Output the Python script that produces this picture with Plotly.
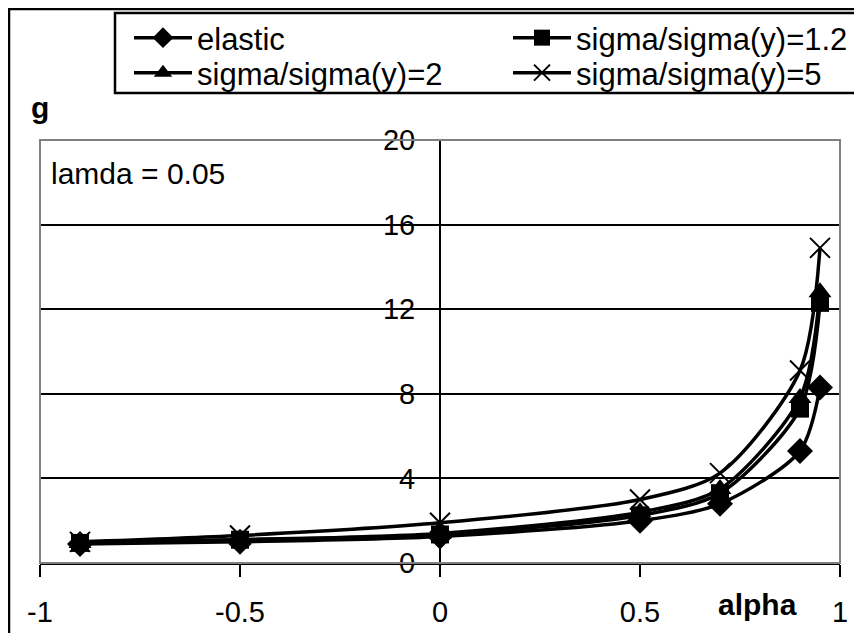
import plotly.graph_objects as go

alpha = [-0.9, -0.5, 0, 0.5, 0.7, 0.9, 0.95]
series_names = ["elastic", "sigma/sigma(y)=1.2", "sigma/sigma(y)=2", "sigma/sigma(y)=5"]
g_elastic = [0.9, 1.0, 1.25, 2.0, 2.8, 5.3, 8.3]
g_s12 = [0.95, 1.1, 1.35, 2.25, 3.3, 7.3, 12.3]
g_s2 = [0.95, 1.1, 1.4, 2.4, 3.5, 7.8, 12.8]
g_s5 = [1.0, 1.3, 1.9, 3.0, 4.25, 9.1, 14.9]
y_ticks = [0, 4, 8, 12, 16, 20]
x_ticks = [-1, -0.5, 0, 0.5, 1]
x_ticktext = ["-1", "-0.5", "0", "0.5", "1"]

series_values = [g_elastic, g_s12, g_s2, g_s5]
symbols = ["diamond", "square", "triangle-up", "x-thin"]
sizes = [20, 18, 20, 20]
legend_ids = ["legend", "legend", "legend2", "legend2"]

# page offset of the figure (body margin)
OFF = 8
W, H = 862, 633
# plot area in page pixels: x 40..840, y 140..563
PX0, PX1, PY0, PY1 = 40, 840, 140, 563
L = PX0 - OFF
R = W - (PX1 - OFF)
T = PY0 - OFF
B = H - (PY1 - OFF)
pw, ph = W - L - R, H - T - B


def px_x(page_x):
    return (page_x - OFF - L) / pw


def px_y(page_y):
    return (H - B - (page_y - OFF)) / ph


fig = go.Figure()
for name, vals, sym, sz, lg in zip(series_names, series_values, symbols, sizes, legend_ids):
    fig.add_trace(go.Scatter(
        x=alpha, y=vals, name=name, mode="lines+markers", legend=lg,
        line=dict(color="black", width=3.5, shape="spline", smoothing=0.8),
        marker=dict(symbol=sym, size=sz, color="black",
                    line=dict(color="black", width=2 if sym == "x-thin" else 0)),
    ))

FONT = "Liberation Sans, Arial, sans-serif"
LEG_FONT = dict(family=FONT, size=31, color="black")

leg_common = dict(
    orientation="h", xanchor="left", yanchor="top",
    bgcolor="rgba(0,0,0,0)", borderwidth=0, font=LEG_FONT,
    itemwidth=58, entrywidth=306, entrywidthmode="pixels",
)

fig.update_layout(
    width=W, height=H,
    margin=dict(l=L, r=R, t=T, b=B, autoexpand=False),
    paper_bgcolor="white", plot_bgcolor="white",
    font=dict(family=FONT, size=28, color="black"),
    showlegend=True,
    legend=dict(x=px_x(129), y=px_y(11), **leg_common),
    legend2=dict(x=px_x(129), y=px_y(46), **leg_common),
    xaxis=dict(
        range=[-1, 1], tickvals=x_ticks, ticktext=x_ticktext,
        showgrid=False, zeroline=False, showline=True, linecolor="black", linewidth=2,
        ticks="outside", ticklen=12, tickwidth=2, tickcolor="black",
        tickfont=dict(family=FONT, size=29), ticklabelstandoff=10,
    ),
    yaxis=dict(
        range=[0, 20], tickvals=y_ticks, anchor="free", position=0.5,
        showgrid=True, gridcolor="black", gridwidth=1.5,
        zeroline=False, showline=True, linecolor="black", linewidth=2,
        ticks="outside", ticklen=10, tickwidth=2, tickcolor="black",
        tickfont=dict(family=FONT, size=29), ticklabelstandoff=8,
    ),
)

# plot-area gray frame
fig.add_shape(type="rect", xref="paper", yref="paper", x0=0, x1=1, y0=0, y1=1,
              line=dict(color="#808080", width=2), layer="above")
# outer chart border (cropped at right/bottom)
fig.add_shape(type="rect", xref="paper", yref="paper",
              x0=px_x(9), x1=px_x(900), y0=px_y(700), y1=px_y(9),
              line=dict(color="black", width=2.5), layer="below")
# legend box
fig.add_shape(type="rect", xref="paper", yref="paper",
              x0=px_x(115), x1=px_x(900), y0=px_y(93), y1=px_y(13),
              line=dict(color="black", width=2.5), layer="below")

fig.add_annotation(text="<b>g</b>", xref="paper", yref="paper", x=px_x(40), y=px_y(108),
                   showarrow=False, font=dict(family=FONT, size=30), xanchor="center", yanchor="middle")
fig.add_annotation(text="lamda = 0.05", xref="paper", yref="paper", x=px_x(49), y=px_y(173),
                   showarrow=False, font=dict(family=FONT, size=30), xanchor="left", yanchor="middle")
fig.add_annotation(text="<b>alpha</b>", xref="paper", yref="paper", x=px_x(757), y=px_y(604),
                   showarrow=False, font=dict(family=FONT, size=30), xanchor="center", yanchor="middle")

fig.write_html("out.html")
